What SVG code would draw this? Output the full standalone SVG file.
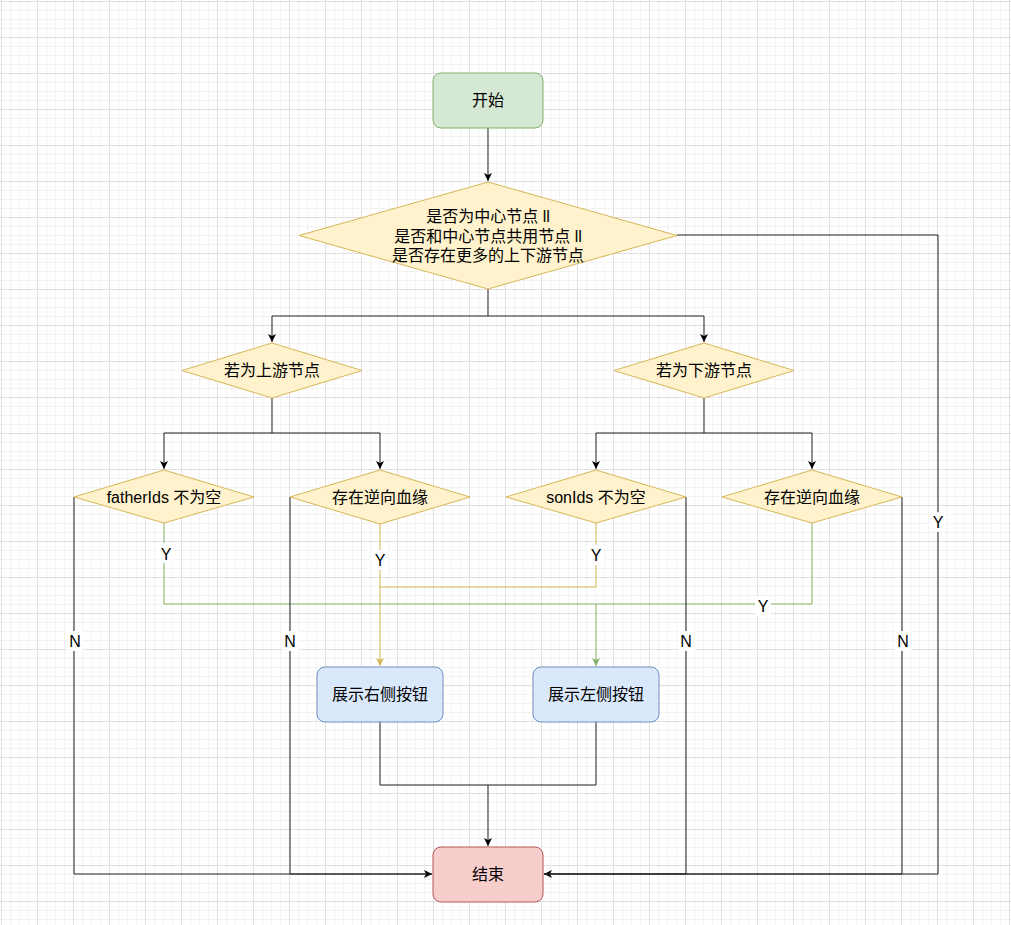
<svg xmlns="http://www.w3.org/2000/svg" width="1011" height="925" viewBox="0 0 1011 925">
<defs>
<pattern id="grid" width="36" height="36" patternUnits="userSpaceOnUse" x="1" y="1">
<path d="M9.5 0V36M18.5 0V36M27.5 0V36M0 9.5H36M0 18.5H36M0 27.5H36" stroke="#f3f3f3" stroke-width="1" fill="none"/>
<path d="M0.5 0V36M0 0.5H36" stroke="#e1e1e1" stroke-width="1" fill="none"/>
</pattern>
<marker id="ab" markerWidth="10" markerHeight="10" refX="8" refY="4" orient="auto" markerUnits="userSpaceOnUse">
<path d="M0,0 L8,4 L0,8 L2,4 Z" fill="#000"/>
</marker>
<marker id="ay" markerWidth="10" markerHeight="10" refX="8" refY="4" orient="auto" markerUnits="userSpaceOnUse">
<path d="M0,0 L8,4 L0,8 L2,4 Z" fill="#d6b656"/>
</marker>
<marker id="ag" markerWidth="10" markerHeight="10" refX="8" refY="4" orient="auto" markerUnits="userSpaceOnUse">
<path d="M0,0 L8,4 L0,8 L2,4 Z" fill="#82b366"/>
</marker>
</defs>
<style>
text{font-family:"Liberation Sans","Noto Sans CJK SC",sans-serif;font-size:16px;fill:#000;text-anchor:middle}
.e{fill:none;stroke:#222;stroke-width:1}
.ey{fill:none;stroke:#d6b656;stroke-width:1}
.eg{fill:none;stroke:#82b366;stroke-width:1}
.dia{fill:#fff2cc;stroke:#d6b656;stroke-width:1}
.lb{fill:#fff}
</style>
<rect width="1011" height="925" fill="#fff"/>
<rect width="1011" height="925" fill="url(#grid)"/>

<g id="connectors">
<path class="e" d="M488 128V181" marker-end="url(#ab)"/>
<path class="e" d="M488 289V316H272V342" marker-end="url(#ab)"/>
<path class="e" d="M488 316H704V342" marker-end="url(#ab)"/>
<path class="e" d="M677 235H938V874H544" marker-end="url(#ab)"/>
<path class="e" d="M272 398V433H164V469" marker-end="url(#ab)"/>
<path class="e" d="M272 433H380V469" marker-end="url(#ab)"/>
<path class="e" d="M704 398V433H596V469" marker-end="url(#ab)"/>
<path class="e" d="M704 433H812V469" marker-end="url(#ab)"/>
<path class="eg" d="M164 523V604H596V666" marker-end="url(#ag)"/>
<path class="eg" d="M812 523V604H596"/>
<path class="ey" d="M596 523V587H380"/>
<path class="ey" d="M380 524V666" marker-end="url(#ay)"/>
<path class="e" d="M74 497V874H432" marker-end="url(#ab)"/>
<path class="e" d="M290 497V874H432"/>
<path class="e" d="M686 497V874H544"/>
<path class="e" d="M902 497V874H544"/>
<path class="e" d="M380 722V785H596V722"/>
<path class="e" d="M488 785V846" marker-end="url(#ab)"/>
<rect class="lb" x="158" y="543" width="16" height="20"/>
<text x="166" y="560">Y</text>
<rect class="lb" x="372" y="550" width="16" height="20"/>
<text x="380" y="566">Y</text>
<rect class="lb" x="588" y="545" width="16" height="20"/>
<text x="596" y="561">Y</text>
<rect class="lb" x="755" y="596" width="16" height="20"/>
<text x="763" y="612">Y</text>
<rect class="lb" x="930" y="512" width="16" height="20"/>
<text x="938" y="528">Y</text>
<rect class="lb" x="67" y="631" width="16" height="20"/>
<text x="75" y="647">N</text>
<rect class="lb" x="283" y="631" width="16" height="20"/>
<text x="290" y="647">N</text>
<rect class="lb" x="679" y="631" width="16" height="20"/>
<text x="686" y="647">N</text>
<rect class="lb" x="895" y="631" width="16" height="20"/>
<text x="903" y="647">N</text>
</g>

<g id="start">
<rect x="433" y="73" width="110" height="55" rx="8" fill="#d5e8d4" stroke="#82b366"/>
<text x="488" y="106">开始</text>
</g>
<g id="decision-main">
<polygon class="dia" points="488,182 677,235.5 488,289 299,235.5"/>
<text x="488" y="222">是否为中心节点 ll</text>
<text x="488" y="242">是否和中心节点共用节点 ll</text>
<text x="488" y="261">是否存在更多的上下游节点</text>
</g>
<g id="upstream">
<polygon class="dia" points="272,343 362,370.5 272,398 182,370.5"/>
<text x="272" y="376">若为上游节点</text>
</g>
<g id="downstream">
<polygon class="dia" points="704,343 794,370.5 704,398 614,370.5"/>
<text x="704" y="376">若为下游节点</text>
</g>
<g id="father-ids">
<polygon class="dia" points="164,470 254,497 164,523 74,497"/>
<text x="164" y="503">fatherIds 不为空</text>
</g>
<g id="reverse-left">
<polygon class="dia" points="380,470 470,497 380,524 290,497"/>
<text x="380" y="503">存在逆向血缘</text>
</g>
<g id="son-ids">
<polygon class="dia" points="596,470 686,497 596,523 506,497"/>
<text x="596" y="503">sonIds 不为空</text>
</g>
<g id="reverse-right">
<polygon class="dia" points="812,470 902,497 812,523 722,497"/>
<text x="812" y="503">存在逆向血缘</text>
</g>
<g id="show-right">
<rect x="317" y="667" width="126" height="55" rx="8" fill="#dae8fc" stroke="#6c8ebf"/>
<text x="380" y="700">展示右侧按钮</text>
</g>
<g id="show-left">
<rect x="533" y="667" width="126" height="55" rx="8" fill="#dae8fc" stroke="#6c8ebf"/>
<text x="596" y="700">展示左侧按钮</text>
</g>
<g id="end">
<rect x="433" y="847" width="110" height="55" rx="8" fill="#f8cecc" stroke="#b85450"/>
<text x="488" y="880">结束</text>
</g>
</svg>
